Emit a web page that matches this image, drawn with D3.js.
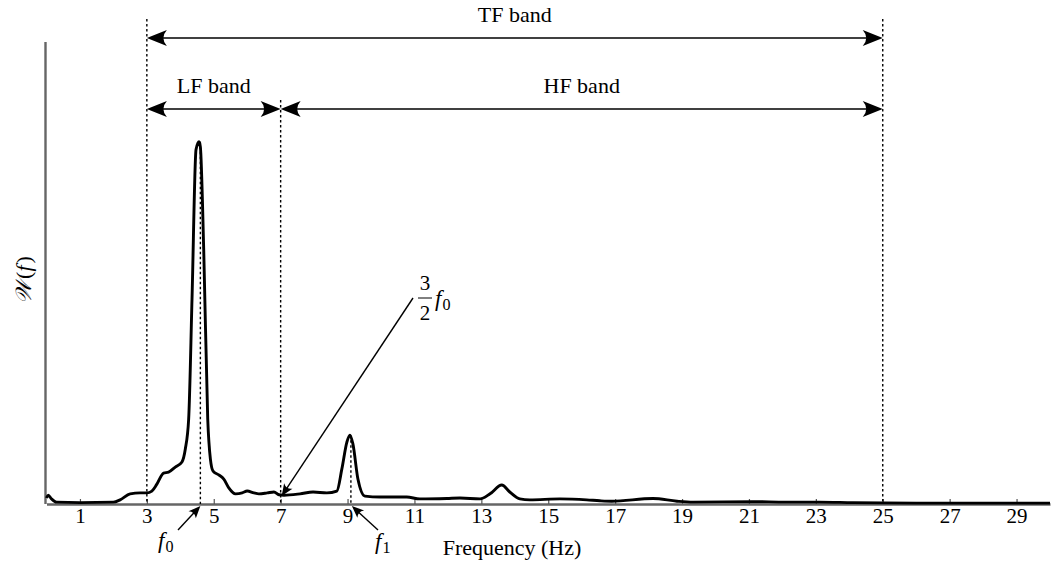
<!DOCTYPE html>
<html><head><meta charset="utf-8">
<script src="https://cdn.jsdelivr.net/npm/d3@7"></script>
<style>body{margin:0;background:#fff}text{font-family:"Liberation Serif","DejaVu Serif",serif;fill:#000}</style>
</head><body><svg id="c" width="1057" height="562"></svg>
<script>
const freqs = [0,0.05,0.15,0.3,1.0,2.0,2.2,2.5,2.8,3.0,3.15,3.3,3.5,3.65,3.85,4.05,4.15,4.25,4.35,4.47,4.56,4.6,4.7,4.82,4.9,4.98,5.15,5.3,5.45,5.65,5.85,6.0,6.2,6.35,6.6,6.8,6.95,7.1,7.58,7.97,8.38,8.68,8.83,8.98,9.07,9.16,9.31,9.52,9.97,10.77,11.16,11.97,12.36,12.96,13.26,13.61,13.85,14.15,14.45,15.35,16.15,16.54,16.9,18.13,18.85,19.33,21.1,22.1,23.1,24.1,26,28,30];
const power = [0.013,0.019,0.011,0.004,0.003,0.004,0.009,0.022,0.024,0.024,0.028,0.043,0.067,0.069,0.080,0.091,0.119,0.184,0.443,0.767,0.784,0.773,0.551,0.184,0.097,0.071,0.063,0.054,0.035,0.022,0.024,0.028,0.024,0.022,0.024,0.026,0.020,0.019,0.022,0.026,0.024,0.028,0.076,0.134,0.149,0.130,0.054,0.017,0.015,0.015,0.011,0.012,0.013,0.011,0.022,0.041,0.026,0.011,0.009,0.011,0.009,0.007,0.006,0.012,0.006,0.004,0.005,0.004,0.004,0.003,0.002,0.002,0.002];
const tickValues = [1,3,5,7,9,11,13,15,17,19,21,23,25,27,29];
const bands = [{name:"TF band",from:3,to:25,row:0},{name:"LF band",from:3,to:7,row:1},{name:"HF band",from:7,to:25,row:1}];
const f0 = 4.6, f1 = 9.1, f32 = 7.0;

const svg = d3.select("#c");
const x = d3.scaleLinear().domain([0,30]).range([46.5,1050]);
const y = d3.scaleLinear().domain([0,1]).range([504,42]);
const data = freqs.map((f,i)=>({f,v:power[i]}));

// axes
const xa = svg.append("g").attr("transform","translate(0,"+y(0)+")")
  .call(d3.axisBottom(x).tickValues(tickValues).tickSizeInner(-5).tickSizeOuter(0).tickPadding(8));
xa.select(".domain").attr("stroke","#666").attr("stroke-width",2.4);
xa.selectAll(".tick line").attr("stroke","#555").attr("stroke-width",1.2);
xa.selectAll(".tick text").attr("font-size",21).attr("font-family","Liberation Serif").attr("dy","0.5em");
svg.append("line").attr("x1",x(0)-1).attr("x2",x(0)-1).attr("y1",y(0)).attr("y2",y(1))
  .attr("stroke","#666").attr("stroke-width",2.4);

// dashed lines
const rowY = [38,109];
[[3,19],[7,100],[25,19]].forEach(([f,top])=>{
  svg.append("line").attr("x1",x(f)).attr("x2",x(f)).attr("y1",top).attr("y2",y(0))
    .attr("stroke","#000").attr("stroke-width",1.4).attr("stroke-dasharray","2.5,2.5");
});
const peakV = f=>d3.max(data.filter(d=>Math.abs(d.f-f)<0.15),d=>d.v);
[[f0,peakV(f0)],[f1,peakV(f1)]].forEach(([f,v])=>{
  svg.append("line").attr("x1",x(f)).attr("x2",x(f)).attr("y1",y(v)).attr("y2",y(0))
    .attr("stroke","#000").attr("stroke-width",1.4).attr("stroke-dasharray","2.5,2.5");
});

// curve
svg.append("path").datum(data).attr("fill","none").attr("stroke","#000").attr("stroke-width",2.9)
  .attr("stroke-linejoin","round")
  .attr("d",d3.line().x(d=>x(d.f)).y(d=>y(d.v)).curve(d3.curveMonotoneX));

// arrowheads
function head(tx,ty,ang,L=20,W=8,notch=7){
  const pts=[[0,0],[-L,-W],[-L+notch,0],[-L,W]].map(([a,b])=>[tx+a*Math.cos(ang)-b*Math.sin(ang),ty+a*Math.sin(ang)+b*Math.cos(ang)]);
  const P=pts.map(q=>q.map(v=>v.toFixed(2)).join(","));
  svg.append("path").attr("d","M"+P[0]+"L"+P[1]+"Q"+P[2]+" "+P[3]+"Z").attr("fill","#000");
}
bands.forEach(b=>{
  const yy=rowY[b.row], x1=x(b.from), x2=x(b.to);
  svg.append("line").attr("x1",x1+10).attr("x2",x2-10).attr("y1",yy).attr("y2",yy).attr("stroke","#000").attr("stroke-width",1.4);
  head(x1,yy,Math.PI); head(x2,yy,0);
  svg.append("text").attr("x",(x1+x2)/2).attr("y",yy-16).attr("text-anchor","middle").attr("font-size",22).text(b.name);
});

// annotation arrows
function arrow(x1,y1,x2,y2){
  const ang=Math.atan2(y2-y1,x2-x1);
  svg.append("line").attr("x1",x1).attr("y1",y1).attr("x2",x2-8*Math.cos(ang)).attr("y2",y2-8*Math.sin(ang))
    .attr("stroke","#000").attr("stroke-width",1.4);
  head(x2,y2,ang,12,5,4);
}
arrow(178,530,x(f0),y(0)+2);
arrow(378,530,x(f1)+1,y(0)+2);
arrow(413,298,x(f32)+1,y(0)-8);

// labels
function fsub(px,py,base,sub,size){
  const t=svg.append("text").attr("x",px).attr("y",py).attr("font-size",size).attr("font-style","italic");
  t.append("tspan").text(base);
  t.append("tspan").attr("font-style","normal").attr("font-size",size*0.7).attr("dx",1).attr("dy",size*0.18).text(sub);
}
fsub(158,548,"f","0",23);
fsub(375,549,"f","1",23);
svg.append("text").attr("x",425).attr("y",290).attr("text-anchor","middle").attr("font-size",21).text("3");
svg.append("line").attr("x1",418).attr("x2",432).attr("y1",298).attr("y2",298).attr("stroke","#000").attr("stroke-width",1);
svg.append("text").attr("x",425).attr("y",320).attr("text-anchor","middle").attr("font-size",21).text("2");
fsub(435,306,"f","0",23);

svg.append("text").attr("x",512).attr("y",555).attr("text-anchor","middle").attr("font-size",22).text("Frequency (Hz)");
svg.append("text").attr("transform","translate(31,280) rotate(-90)").attr("text-anchor","middle").attr("font-size",22)
  .html('<tspan font-style="italic">𝒲</tspan><tspan dx="2">(</tspan><tspan font-style="italic">f</tspan><tspan dx="2">)</tspan>');
</script></body></html>
